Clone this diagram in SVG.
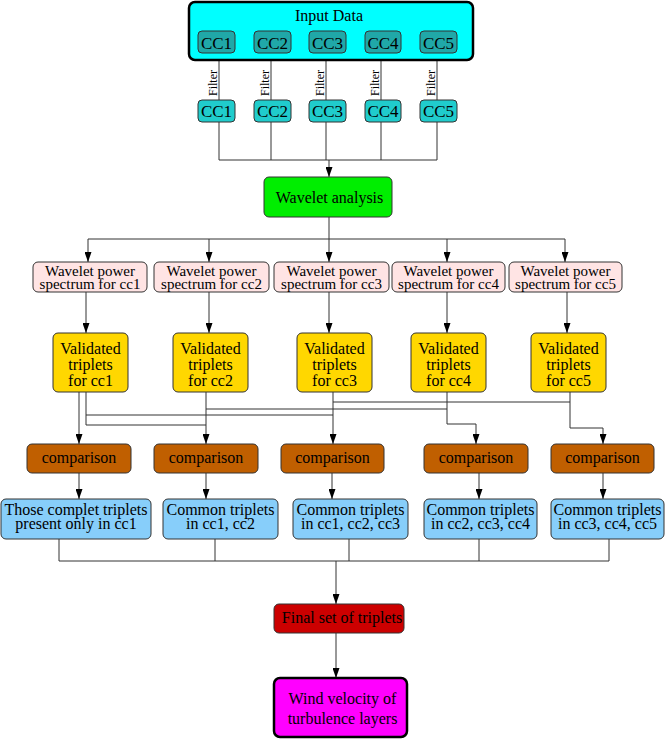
<svg xmlns="http://www.w3.org/2000/svg" width="666" height="739" viewBox="0 0 666 739" font-family="'Liberation Serif','Times New Roman',serif">
<style>
text{font-family:"Liberation Serif","Times New Roman",serif;fill:#000;text-anchor:middle}
.t16{font-size:16px}
.t15{font-size:15px}
.t17{font-size:17px}
.t12{font-size:12px}
.box{stroke:#333;stroke-width:1}
.thick{stroke:#000;stroke-width:2.5}
.ln{fill:none;stroke:#333;stroke-width:1}
.ar{fill:none;stroke:#333;stroke-width:1;marker-end:url(#ah)}
</style>
<defs>
<marker id="ah" viewBox="0 0 10 7" refX="10" refY="3.5" markerWidth="10" markerHeight="7" markerUnits="userSpaceOnUse" orient="auto">
<path d="M0,0 L10,3.5 L0,7 z" fill="#000"/>
</marker>
</defs>
<rect width="666" height="739" fill="#fff"/>

<g id="connectors">
<path class="ln" d="M219,53V100M271,53V100M326,53V100M381,53V100M437,53V100"/>
<path class="ln" d="M219,122V160M271,122V160M326,122V160M381,122V160M437,122V160M219,160H437"/>
<path class="ar" d="M329,160V177"/>
<path class="ln" d="M329,217V239M88,239H565"/>
<path class="ar" d="M88,239V262"/>
<path class="ar" d="M209,239V262"/>
<path class="ar" d="M329,239V262"/>
<path class="ar" d="M447,239V262"/>
<path class="ar" d="M565,239V262"/>
<path class="ar" d="M86,292V333"/>
<path class="ar" d="M209,292V333"/>
<path class="ar" d="M329,292V333"/>
<path class="ar" d="M447,292V333"/>
<path class="ar" d="M567,292V333"/>
<path class="ar" d="M79,392V444"/>
<path class="ln" d="M86,392V425H206"/>
<path class="ln" d="M86,415H333"/>
<path class="ar" d="M206,392V444"/>
<path class="ln" d="M206,409H447"/>
<path class="ar" d="M333,392V444"/>
<path class="ln" d="M333,402H570"/>
<path class="ar" d="M447,392V424H476V444"/>
<path class="ar" d="M570,392V428H603V444"/>
<path class="ar" d="M79,473V499"/>
<path class="ar" d="M206,473V499"/>
<path class="ar" d="M332,473V499"/>
<path class="ar" d="M479,473V499"/>
<path class="ar" d="M603,473V499"/>
<path class="ln" d="M59,539V561M215,539V561M349,539V561M479,539V561M609,539V561M59,561H609"/>
<path class="ar" d="M336,561V604"/>
<path class="ar" d="M336,633V678"/>
<text class="t12" transform="translate(216.5,83) rotate(-90)">Filter</text>
<text class="t12" transform="translate(268.5,83) rotate(-90)">Filter</text>
<text class="t12" transform="translate(323.5,83) rotate(-90)">Filter</text>
<text class="t12" transform="translate(378.5,83) rotate(-90)">Filter</text>
<text class="t12" transform="translate(434.5,83) rotate(-90)">Filter</text>
</g>

<g id="input">
<rect class="thick" x="189" y="2" width="284" height="58" rx="6" fill="#00ffff"/>
<text class="t16" x="329" y="21">Input Data</text>
</g>
<g id="in_cc1"><rect class="box" x="198" y="31" width="37" height="22" rx="4" fill="#20a8a8"/><text class="t17" x="216.5" y="48.5">CC1</text></g>
<g id="in_cc2"><rect class="box" x="254" y="31" width="37" height="22" rx="4" fill="#20a8a8"/><text class="t17" x="272.5" y="48.5">CC2</text></g>
<g id="in_cc3"><rect class="box" x="309" y="31" width="37" height="22" rx="4" fill="#20a8a8"/><text class="t17" x="327.5" y="48.5">CC3</text></g>
<g id="in_cc4"><rect class="box" x="365" y="31" width="36" height="22" rx="4" fill="#20a8a8"/><text class="t17" x="383" y="48.5">CC4</text></g>
<g id="in_cc5"><rect class="box" x="420" y="31" width="37" height="22" rx="4" fill="#20a8a8"/><text class="t17" x="438.5" y="48.5">CC5</text></g>

<g id="f_cc1"><rect class="box" x="198" y="100" width="37" height="22" rx="4" fill="#20cccc"/><text class="t17" x="216.5" y="117">CC1</text></g>
<g id="f_cc2"><rect class="box" x="254" y="100" width="37" height="22" rx="4" fill="#20cccc"/><text class="t17" x="272.5" y="117">CC2</text></g>
<g id="f_cc3"><rect class="box" x="309" y="100" width="37" height="22" rx="4" fill="#20cccc"/><text class="t17" x="327.5" y="117">CC3</text></g>
<g id="f_cc4"><rect class="box" x="365" y="100" width="36" height="22" rx="4" fill="#20cccc"/><text class="t17" x="383" y="117">CC4</text></g>
<g id="f_cc5"><rect class="box" x="420" y="100" width="37" height="22" rx="4" fill="#20cccc"/><text class="t17" x="438.5" y="117">CC5</text></g>

<g id="wavelet"><rect class="box" x="264" y="177" width="128" height="40" rx="5" fill="#00ee00"/><text class="t16" x="329.5" y="203">Wavelet analysis</text></g>

<g id="wp1"><rect class="box" x="33" y="262" width="114" height="30" rx="5" fill="#ffe4e4"/><text class="t15" x="90" y="275.5">Wavelet power</text><text class="t15" x="90" y="288.5">spectrum for cc1</text></g>
<g id="wp2"><rect class="box" x="154" y="262" width="115" height="30" rx="5" fill="#ffe4e4"/><text class="t15" x="211.5" y="275.5">Wavelet power</text><text class="t15" x="211.5" y="288.5">spectrum for cc2</text></g>
<g id="wp3"><rect class="box" x="274" y="262" width="115" height="30" rx="5" fill="#ffe4e4"/><text class="t15" x="331.5" y="275.5">Wavelet power</text><text class="t15" x="331.5" y="288.5">spectrum for cc3</text></g>
<g id="wp4"><rect class="box" x="392" y="262" width="113" height="30" rx="5" fill="#ffe4e4"/><text class="t15" x="448.5" y="275.5">Wavelet power</text><text class="t15" x="448.5" y="288.5">spectrum for cc4</text></g>
<g id="wp5"><rect class="box" x="509" y="262" width="113" height="30" rx="5" fill="#ffe4e4"/><text class="t15" x="565.5" y="275.5">Wavelet power</text><text class="t15" x="565.5" y="288.5">spectrum for cc5</text></g>

<g id="vt1"><rect class="box" x="53" y="333" width="75" height="59" rx="5" fill="#ffd700"/><text class="t16" x="90.5" y="354">Validated</text><text class="t16" x="90.5" y="370">triplets</text><text class="t16" x="90.5" y="386">for cc1</text></g>
<g id="vt2"><rect class="box" x="173" y="333" width="75" height="59" rx="5" fill="#ffd700"/><text class="t16" x="210.5" y="354">Validated</text><text class="t16" x="210.5" y="370">triplets</text><text class="t16" x="210.5" y="386">for cc2</text></g>
<g id="vt3"><rect class="box" x="297" y="333" width="75" height="59" rx="5" fill="#ffd700"/><text class="t16" x="334.5" y="354">Validated</text><text class="t16" x="334.5" y="370">triplets</text><text class="t16" x="334.5" y="386">for cc3</text></g>
<g id="vt4"><rect class="box" x="411" y="333" width="75" height="59" rx="5" fill="#ffd700"/><text class="t16" x="448.5" y="354">Validated</text><text class="t16" x="448.5" y="370">triplets</text><text class="t16" x="448.5" y="386">for cc4</text></g>
<g id="vt5"><rect class="box" x="531" y="333" width="75" height="59" rx="5" fill="#ffd700"/><text class="t16" x="568.5" y="354">Validated</text><text class="t16" x="568.5" y="370">triplets</text><text class="t16" x="568.5" y="386">for cc5</text></g>

<g id="cmp1"><rect class="box" x="27" y="444" width="104" height="29" rx="5" fill="#c05f00"/><text class="t16" x="79" y="463">comparison</text></g>
<g id="cmp2"><rect class="box" x="154" y="444" width="104" height="29" rx="5" fill="#c05f00"/><text class="t16" x="206" y="463">comparison</text></g>
<g id="cmp3"><rect class="box" x="281" y="444" width="103" height="29" rx="5" fill="#c05f00"/><text class="t16" x="332.5" y="463">comparison</text></g>
<g id="cmp4"><rect class="box" x="424" y="444" width="104" height="29" rx="5" fill="#c05f00"/><text class="t16" x="476" y="463">comparison</text></g>
<g id="cmp5"><rect class="box" x="551" y="444" width="103" height="29" rx="5" fill="#c05f00"/><text class="t16" x="602.5" y="463">comparison</text></g>

<g id="res1"><rect class="box" x="1" y="499" width="150" height="40" rx="5" fill="#87cefa"/><text class="t16" x="76" y="515">Those complet triplets</text><text class="t16" x="76" y="529">present only in cc1</text></g>
<g id="res2"><rect class="box" x="163" y="499" width="115" height="40" rx="5" fill="#87cefa"/><text class="t16" x="220.5" y="515">Common triplets</text><text class="t16" x="220.5" y="529">in cc1, cc2</text></g>
<g id="res3"><rect class="box" x="293" y="499" width="115" height="40" rx="5" fill="#87cefa"/><text class="t16" x="350.5" y="515">Common triplets</text><text class="t16" x="350.5" y="529">in cc1, cc2, cc3</text></g>
<g id="res4"><rect class="box" x="424" y="499" width="113" height="40" rx="5" fill="#87cefa"/><text class="t16" x="480.5" y="515">Common triplets</text><text class="t16" x="480.5" y="529">in cc2, cc3, cc4</text></g>
<g id="res5"><rect class="box" x="551" y="499" width="113" height="40" rx="5" fill="#87cefa"/><text class="t16" x="607.5" y="515">Common triplets</text><text class="t16" x="607.5" y="529">in cc3, cc4, cc5</text></g>

<g id="final"><rect class="box" x="274" y="604" width="130" height="29" rx="5" fill="#cc0000"/><text class="t16" x="342" y="623">Final set of triplets</text></g>
<g id="wind"><rect class="thick" x="274" y="678" width="133" height="59" rx="6" fill="#ff00ff"/><text class="t16" x="342.5" y="704">Wind velocity of</text><text class="t16" x="342.5" y="724">turbulence layers</text></g>
</svg>
